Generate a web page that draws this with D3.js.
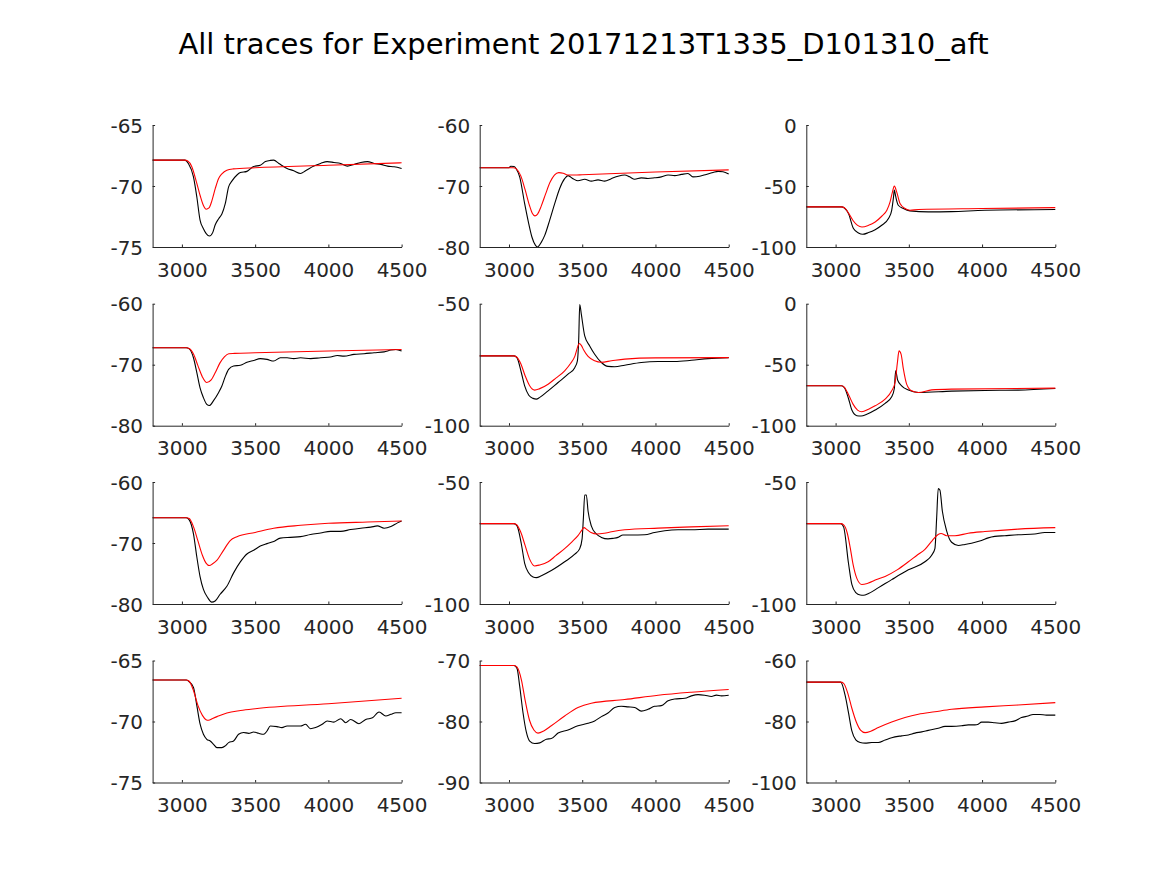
<!DOCTYPE html>
<html lang="en">
<head>
  <meta charset="UTF-8">
  <title>All traces</title>
  <script src="https://d3js.org/d3.v7.min.js"></script>
  <style>
    body { margin: 0; background: #fff; }
    svg { font-family: "DejaVu Sans", sans-serif; }
    .axis path, .axis line { stroke: #262626; fill: none; }
    .axis text { fill: #262626; font-size: 20px; }
  </style>
</head>
<body>
<svg width="1167" height="875"></svg>
<script>
// x axis shared by all panels
const xDomain = [2800, 4500];
const xTicks = [3000, 3500, 4000, 4500];

// y ticks per panel (domain = first..last tick)
const yTicks1 = [-75, -70, -65];
const yTicks2 = [-80, -70, -60];
const yTicks3 = [-100, -50, 0];
const yTicks4 = [-80, -70, -60];
const yTicks5 = [-100, -50];
const yTicks6 = [-100, -50, 0];
const yTicks7 = [-80, -70, -60];
const yTicks8 = [-100, -50];
const yTicks9 = [-100, -50];
const yTicks10 = [-75, -70, -65];
const yTicks11 = [-90, -80, -70];
const yTicks12 = [-100, -80, -60];

// traces: [time, value]
const black1 = [[2800,-67.88],[3020,-67.88],[3044,-68.15],[3079,-69.25],[3102,-70.9],[3124,-72.8],[3147,-73.5],[3166,-73.9],[3188,-74.1],[3211,-73.8],[3227,-73.2],[3250,-72.7],[3273,-72.3],[3296,-71.45],[3319,-70.07],[3341,-69.6],[3376,-69.1],[3399,-68.9],[3444,-68.8],[3490,-68.4],[3535,-68.3],[3570,-68.0],[3604,-67.9],[3627,-67.88],[3662,-68.15],[3718,-68.56],[3764,-68.75],[3810,-68.97],[3844,-68.75],[3901,-68.37],[3947,-68.15],[3992,-68.0],[4038,-68.07],[4084,-68.15],[4130,-68.37],[4175,-68.23],[4221,-68.07],[4267,-68.0],[4312,-68.15],[4358,-68.23],[4404,-68.37],[4449,-68.42],[4500,-68.56]];
const red1 = [[2800,-67.88],[3020,-67.88],[3040,-67.95],[3067,-68.4],[3100,-69.7],[3125,-70.8],[3147,-71.6],[3166,-71.9],[3185,-71.8],[3205,-71.2],[3228,-70.2],[3250,-69.4],[3273,-69.0],[3307,-68.7],[3350,-68.6],[3500,-68.5],[4000,-68.3],[4500,-68.1]];

const black2 = [[2800,-67.0],[3000,-67.0],[3012,-66.75],[3035,-66.8],[3050,-67.2],[3073,-68.5],[3107,-72.9],[3135,-76.2],[3157,-78.4],[3180,-79.7],[3194,-80.0],[3221,-79.2],[3244,-78.1],[3278,-75.6],[3312,-72.9],[3346,-70.4],[3380,-68.8],[3403,-68.3],[3437,-68.8],[3471,-69.15],[3517,-68.9],[3562,-69.2],[3608,-69.0],[3653,-69.2],[3698,-68.8],[3744,-68.4],[3790,-68.2],[3824,-68.5],[3858,-68.9],[3903,-68.66],[3949,-68.77],[3994,-68.66],[4040,-68.5],[4086,-68.2],[4131,-68.3],[4177,-68.1],[4222,-67.95],[4256,-68.5],[4302,-68.4],[4347,-68.1],[4393,-67.8],[4427,-67.6],[4461,-67.67],[4500,-68.05]];
const red2 = [[2800,-67.0],[3030,-67.0],[3050,-67.2],[3080,-68.3],[3110,-70.6],[3140,-73.2],[3160,-74.5],[3177,-74.9],[3195,-74.6],[3220,-73.3],[3250,-71.3],[3280,-69.4],[3310,-68.2],[3340,-67.8],[3370,-67.9],[3400,-68.2],[3450,-68.2],[3500,-68.15],[4000,-67.7],[4500,-67.35]];

const black3 = [[2800,-67.1],[3040,-67.1],[3060,-68.0],[3088,-72.6],[3122,-84.9],[3156,-88.5],[3186,-89.6],[3225,-88.2],[3270,-85.8],[3315,-82.2],[3361,-76.7],[3383,-69.9],[3395,-59.5],[3401,-53.4],[3410,-58.4],[3428,-65.8],[3463,-68.5],[3508,-70.4],[3633,-71.2],[3792,-71.0],[4019,-69.9],[4500,-69.3]];
const red3 = [[2800,-67.1],[3040,-67.1],[3060,-67.8],[3090,-72.5],[3120,-78.5],[3150,-82.3],[3180,-83.6],[3225,-82.2],[3270,-79.5],[3315,-74.8],[3350,-69.9],[3372,-63],[3388,-55],[3401,-50.1],[3417,-54.8],[3440,-64.4],[3474,-68.5],[3508,-69.9],[3565,-69.3],[4000,-68.5],[4500,-67.7]];

const black4 = [[2800,-67.23],[3030,-67.23],[3050,-67.4],[3079,-68.86],[3102,-71.3],[3124,-73.8],[3147,-75.4],[3170,-76.5],[3188,-76.7],[3216,-75.9],[3250,-74.6],[3273,-73.5],[3296,-71.96],[3319,-70.76],[3353,-70.2],[3399,-70.1],[3444,-69.6],[3490,-69.3],[3535,-69.0],[3581,-69.13],[3627,-69.4],[3672,-68.86],[3718,-68.86],[3764,-69.0],[3810,-68.86],[3879,-69.0],[3947,-68.86],[4015,-68.75],[4061,-68.5],[4107,-68.6],[4175,-68.3],[4244,-68.2],[4312,-68.04],[4381,-67.9],[4427,-67.6],[4461,-67.5],[4500,-67.77]];
const red4 = [[2800,-67.23],[3030,-67.23],[3050,-67.35],[3080,-68.3],[3110,-70.2],[3140,-72.0],[3170,-72.93],[3200,-72.5],[3230,-71.2],[3260,-69.7],[3290,-68.7],[3320,-68.2],[3360,-68.15],[3500,-68.05],[4000,-67.75],[4500,-67.5]];

const black5 = [[2800,-71.4],[3035,-71.4],[3055,-72.2],[3084,-78.2],[3107,-83.65],[3135,-87.5],[3164,-88.8],[3187,-89.1],[3210,-88.4],[3267,-85.7],[3335,-82.3],[3403,-78.9],[3449,-76.2],[3467,-73.4],[3476,-64.6],[3483,-50.3],[3494,-54.4],[3517,-63.2],[3551,-67.3],[3585,-70.7],[3631,-74.1],[3676,-75.7],[3722,-75.85],[3790,-75.2],[3903,-74.1],[4018,-73.7],[4131,-73.7],[4245,-73.2],[4359,-72.5],[4500,-72.1]];
const red5 = [[2800,-71.4],[3030,-71.4],[3050,-71.7],[3080,-74.5],[3110,-79.5],[3140,-83.5],[3175,-85.4],[3210,-84.8],[3267,-83],[3320,-80.5],[3380,-77.5],[3420,-74.5],[3450,-71.5],[3470,-67.5],[3480,-66.3],[3495,-67.2],[3510,-69],[3540,-71.6],[3585,-73.4],[3630,-74],[3700,-73.4],[3790,-72.7],[4000,-72.2],[4500,-72.1]];

const black6 = [[2800,-67.3],[3040,-67.3],[3060,-68.8],[3088,-77.7],[3111,-87.2],[3145,-91.8],[3174,-92.1],[3213,-90.7],[3270,-87.2],[3338,-81.7],[3383,-76.3],[3401,-69.5],[3410,-55],[3424,-62.7],[3451,-67.3],[3497,-70.8],[3565,-72.75],[3792,-71.7],[4019,-71.1],[4246,-70.8],[4500,-69.5]];
const red6 = [[2800,-67.3],[3040,-67.3],[3060,-68.5],[3090,-75],[3120,-82.5],[3150,-87.2],[3179,-88.6],[3225,-86.5],[3270,-83.7],[3338,-78.2],[3383,-71.4],[3406,-64.6],[3422,-48.2],[3433,-38.7],[3447,-41.4],[3463,-53.7],[3485,-65.9],[3519,-71.4],[3565,-72.8],[3656,-70.6],[3792,-70],[4500,-69.2]];

const black7 = [[2800,-65.87],[3030,-65.87],[3050,-66.2],[3079,-68.5],[3102,-72.3],[3124,-75.5],[3147,-77.6],[3175,-78.9],[3204,-79.7],[3227,-79.5],[3261,-78.4],[3307,-77.1],[3353,-74.9],[3399,-73.1],[3444,-71.8],[3490,-71.2],[3535,-70.5],[3581,-70.1],[3627,-69.75],[3672,-69.2],[3741,-69.07],[3810,-68.96],[3878,-68.6],[3947,-68.35],[4015,-68.1],[4084,-68.1],[4152,-67.8],[4221,-67.57],[4290,-67.4],[4335,-67.2],[4381,-67.57],[4427,-67.3],[4472,-66.7],[4500,-66.4]];
const red7 = [[2800,-65.87],[3030,-65.87],[3050,-66.0],[3080,-67.4],[3110,-69.7],[3140,-72.0],[3165,-73.3],[3188,-73.7],[3210,-73.4],[3240,-72.8],[3284,-71.2],[3330,-69.6],[3376,-68.96],[3500,-68.27],[3627,-67.57],[3810,-67.1],[4000,-66.77],[4267,-66.56],[4500,-66.4]];

const black8 = [[2800,-67.07],[3035,-67.07],[3055,-68.0],[3084,-75.3],[3107,-83.3],[3135,-87.3],[3164,-88.9],[3187,-89.2],[3221,-88.4],[3289,-86.3],[3380,-82.7],[3449,-79.6],[3483,-77.3],[3499,-73.3],[3508,-64.7],[3517,-55.3],[3528,-55.3],[3540,-62],[3562,-68],[3596,-71.3],[3631,-72.7],[3676,-73.3],[3710,-73.1],[3744,-72.7],[3778,-71.7],[3835,-71.7],[3926,-71.6],[3994,-70.7],[4063,-70],[4154,-69.6],[4245,-69.6],[4359,-69.3],[4500,-69.3]];
const red8 = [[2800,-67.07],[3030,-67.07],[3050,-67.4],[3080,-70.5],[3110,-76],[3140,-81.5],[3175,-84.4],[3210,-84],[3267,-82.7],[3320,-80.2],[3380,-77.3],[3430,-74.5],[3471,-72],[3500,-69.5],[3512,-68.7],[3530,-69.4],[3560,-70.7],[3600,-71.3],[3650,-71],[3700,-70.4],[3790,-69.6],[4018,-68.9],[4245,-68.4],[4500,-67.9]];

const black9 = [[2800,-67.07],[3035,-67.07],[3055,-68.5],[3088,-83.3],[3111,-92],[3138,-95.3],[3168,-96.3],[3190,-96.4],[3225,-95.7],[3293,-93.3],[3383,-90],[3497,-86],[3610,-82.7],[3656,-80],[3678,-77.3],[3690,-64.7],[3701,-52.7],[3712,-53.3],[3729,-62],[3758,-70],[3792,-74.7],[3838,-76],[3883,-75.6],[3928,-75.1],[3996,-74],[4042,-72.9],[4087,-72.3],[4155,-72],[4246,-71.6],[4360,-71.3],[4428,-70.7],[4500,-70.7]];
const red9 = [[2800,-67.07],[3035,-67.07],[3055,-67.6],[3080,-71],[3100,-77],[3120,-84],[3145,-89.5],[3179,-92],[3220,-91.5],[3280,-90],[3338,-88.7],[3420,-86],[3497,-82.7],[3560,-79.8],[3610,-77.6],[3660,-74],[3700,-71.5],[3720,-71.1],[3758,-72],[3815,-72],[3905,-71],[4019,-70.3],[4246,-69.3],[4500,-68.7]];

const black10 = [[2800,-66.6],[3030,-66.6],[3050,-66.75],[3079,-67.2],[3102,-68.7],[3124,-70.2],[3147,-71.05],[3170,-71.46],[3193,-71.6],[3216,-71.87],[3239,-72.14],[3273,-72.14],[3296,-72.0],[3319,-71.73],[3353,-71.6],[3387,-71.05],[3421,-70.9],[3456,-70.97],[3490,-70.86],[3524,-70.97],[3558,-71.05],[3581,-70.78],[3604,-70.37],[3649,-70.42],[3683,-70.5],[3718,-70.37],[3764,-70.37],[3810,-70.37],[3844,-70.23],[3878,-70.59],[3913,-70.5],[3958,-70.23],[3992,-69.96],[4038,-70.05],[4084,-69.77],[4118,-70.1],[4152,-69.83],[4209,-70.18],[4255,-69.83],[4301,-69.7],[4346,-69.22],[4392,-69.55],[4427,-69.41],[4461,-69.28],[4500,-69.28]];
const red10 = [[2800,-66.6],[3030,-66.6],[3050,-66.7],[3080,-67.5],[3110,-68.7],[3140,-69.5],[3165,-69.85],[3181,-69.9],[3210,-69.75],[3240,-69.6],[3307,-69.3],[3400,-69.1],[3500,-68.95],[4000,-68.55],[4500,-68.1]];

const black11 = [[2800,-70.82],[3035,-70.82],[3055,-71.3],[3073,-74.2],[3096,-78.6],[3119,-81.8],[3141,-83.2],[3175,-83.6],[3210,-83.5],[3255,-82.9],[3289,-82.8],[3335,-81.9],[3403,-81.4],[3471,-80.7],[3539,-80.3],[3585,-79.9],[3631,-79.2],[3676,-78.6],[3722,-77.7],[3767,-77.5],[3813,-77.6],[3858,-77.7],[3903,-78.3],[3949,-78],[3994,-77.5],[4040,-77.4],[4086,-76.6],[4131,-76.3],[4200,-76.2],[4245,-75.8],[4291,-75.6],[4336,-75.7],[4382,-75.9],[4416,-75.67],[4450,-75.8],[4500,-75.7]];
const red11 = [[2800,-70.82],[3035,-70.82],[3055,-71.1],[3085,-73.2],[3110,-76.5],[3140,-79.8],[3170,-81.4],[3198,-81.9],[3240,-81.5],[3289,-80.7],[3380,-79.1],[3471,-77.7],[3562,-77.0],[3790,-76.4],[4018,-75.7],[4245,-75.2],[4500,-74.75]];

const black12 = [[2800,-67.08],[3035,-67.08],[3066,-71.6],[3088,-77.1],[3111,-83.1],[3138,-86.0],[3168,-86.9],[3202,-87.1],[3247,-86.9],[3292,-86.9],[3338,-86.1],[3383,-85.3],[3451,-84.7],[3497,-84.4],[3542,-83.8],[3588,-83.4],[3633,-82.9],[3701,-82.2],[3747,-81.6],[3792,-81.6],[3860,-81.4],[3906,-81.1],[3951,-81.1],[3974,-80.9],[3996,-80.2],[4042,-80.2],[4087,-80.4],[4133,-80.6],[4178,-80.2],[4224,-79.8],[4269,-78.7],[4314,-78.2],[4348,-77.7],[4394,-77.7],[4439,-77.9],[4500,-77.9]];
const red12 = [[2800,-67.08],[3035,-67.08],[3055,-67.5],[3085,-71],[3110,-75.5],[3140,-80],[3170,-82.8],[3202,-83.65],[3240,-83.2],[3292,-82],[3383,-80.2],[3474,-78.7],[3565,-77.6],[3678,-76.8],[3792,-76],[4019,-75.2],[4246,-74.6],[4500,-73.8]];

const panels = [
  [black1, red1, yTicks1], [black2, red2, yTicks2], [black3, red3, yTicks3],
  [black4, red4, yTicks4], [black5, red5, yTicks5], [black6, red6, yTicks6],
  [black7, red7, yTicks7], [black8, red8, yTicks8], [black9, red9, yTicks9],
  [black10, red10, yTicks10], [black11, red11, yTicks11], [black12, red12, yTicks12]
];

const svg = d3.select("svg");

// subplot grid geometry
const colLeft = [152.6, 479.7, 806.3];
const rowTop = [125, 303.7, 482, 660.5];
const panelW = 249;
const panelH = 122;

// plain labels: no thousands comma, ascii hyphen for minus
const plain = d => String(d);

svg.append("text")
   .attr("x", 583.5)
   .attr("y", 54)
   .attr("text-anchor", "middle")
   .style("font-size", "29px")
   .style("fill", "#000")
   .text("All traces for Experiment 20171213T1335_D101310_aft");

panels.forEach(([black, red, ticks], i) => {
  const r = Math.floor(i / 3), c = i % 3;
  const g = svg.append("g")
               .attr("transform", `translate(${colLeft[c]},${rowTop[r]})`);

  const x = d3.scaleLinear().domain(xDomain).range([0, panelW]);
  const y = d3.scaleLinear().domain([ticks[0], ticks[ticks.length - 1]]).range([panelH, 0]);

  const line = d3.line()
                 .x(d => x(d[0]))
                 .y(d => y(d[1]))
                 .curve(d3.curveMonotoneX);

  g.append("path").datum(black)
   .attr("d", line).attr("fill", "none")
   .attr("stroke", "#000").attr("stroke-width", 1.1);

  g.append("path").datum(red)
   .attr("d", line).attr("fill", "none")
   .attr("stroke", "#ff0000").attr("stroke-width", 1.1);

  g.append("g")
   .attr("class", "axis")
   .attr("transform", `translate(0,${panelH})`)
   .call(d3.axisBottom(x).tickValues(xTicks).tickFormat(plain).tickSize(-2.5).tickSizeOuter(0).tickPadding(15.3))
   .call(a => a.selectAll("text").attr("dy", "0.71em"));

  g.append("g")
   .attr("class", "axis")
   .call(d3.axisLeft(y).tickValues(ticks).tickFormat(plain).tickSize(-2.5).tickSizeOuter(0).tickPadding(9.5))
   .call(a => a.selectAll("text").attr("dy", "0.36em"));

  g.selectAll(".axis").attr("font-family", null).attr("font-size", null);
});
</script>
</body>
</html>
